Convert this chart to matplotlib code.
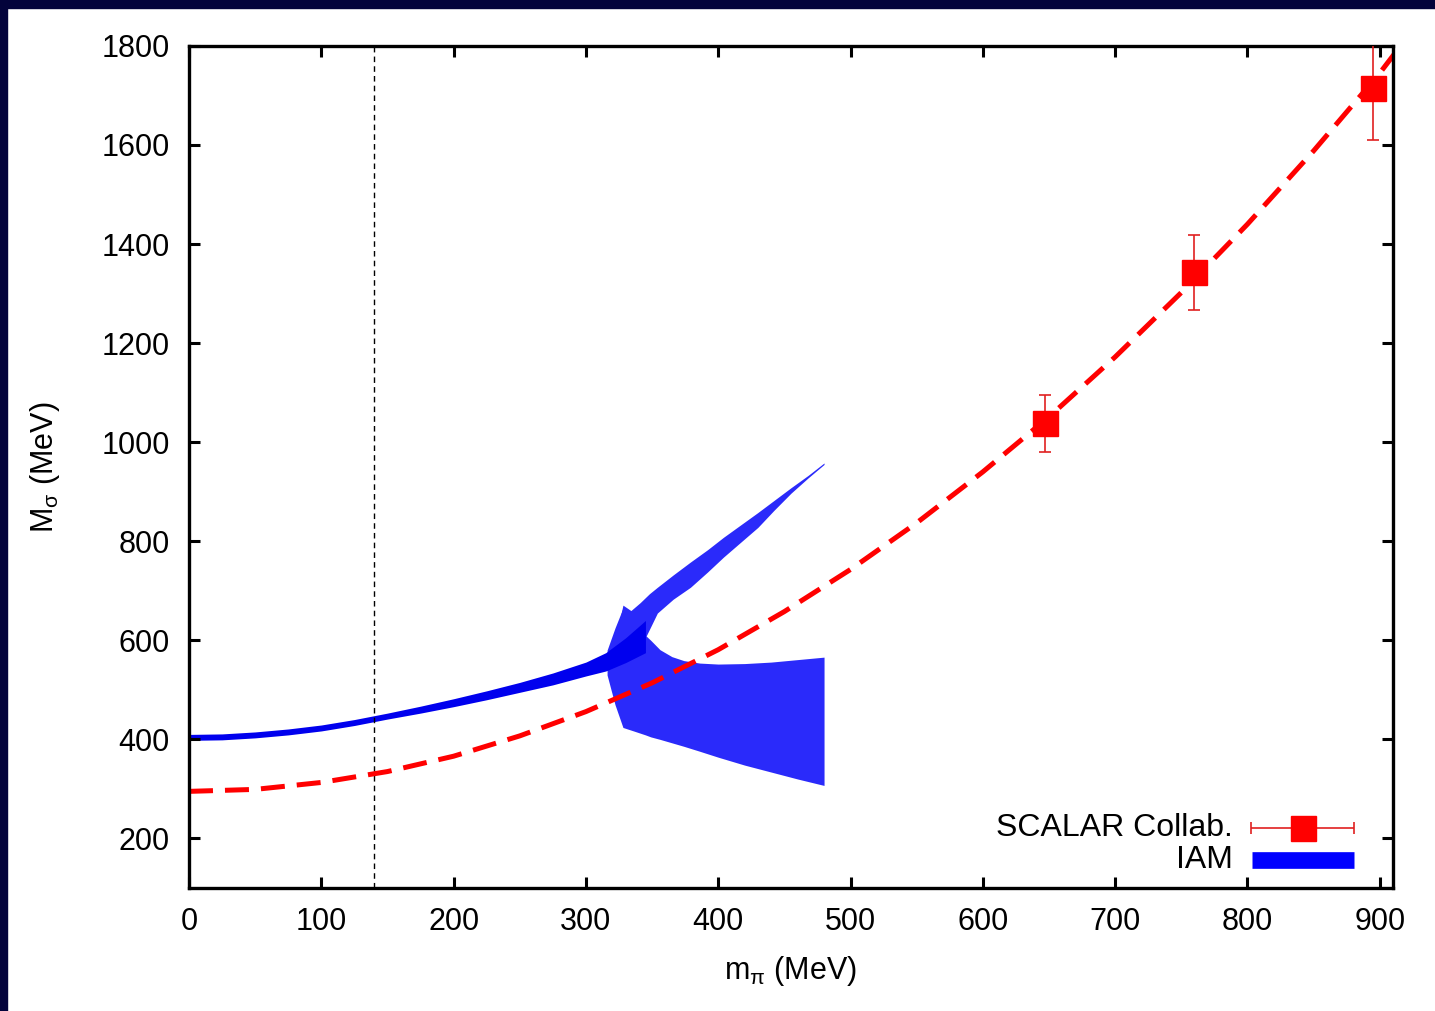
import matplotlib
matplotlib.use('Agg')
import matplotlib.pyplot as plt
from matplotlib.patches import Rectangle

plt.rcParams['font.family'] = ['Liberation Sans', 'DejaVu Sans']
plt.rcParams['mathtext.fontset'] = 'custom'
plt.rcParams['mathtext.rm'] = 'Liberation Sans'
plt.rcParams['mathtext.it'] = 'Liberation Sans'

# SCALAR collaboration lattice points
scalar_mpi = [647, 760, 895]
scalar_msig = [1038, 1343, 1715]
scalar_err = [58, 76, 105]

# fit through lattice points
fit_mpi = [0, 50, 100, 150, 200, 250, 300, 350, 400, 450, 500, 550, 600,
           650, 700, 750, 800, 850, 900, 920]
fit_msig = [295, 299, 313, 335, 366, 407, 456, 514, 581, 658, 743, 837, 940,
            1051, 1172, 1302, 1440, 1588, 1745, 1815]

# IAM band, main (low mpi) part
iam_mpi = [0, 25, 50, 75, 100, 125, 150, 175, 200, 225, 250, 275, 300, 315,
           330, 345]
iam_lo = [398, 399, 403, 409, 417, 428, 441, 453, 466, 480, 495, 510, 528,
          538, 555, 575]
iam_hi = [410, 411, 415, 421, 429, 440, 453, 467, 482, 498, 515, 534, 556,
          575, 605, 640]

# IAM upper branch
up_mpi = [321, 328, 334, 341, 348, 354, 366, 379, 392, 404, 417, 430, 442,
          455, 468, 480]
up_lo = [555, 565, 572, 584, 622, 655, 683, 707, 738, 768, 798, 828, 862,
         897, 928, 955]
up_hi = [586, 671, 660, 676, 694, 707, 732, 758, 783, 808, 833, 858, 882,
         908, 933, 958]

# IAM lower branch (fan)
fan_mpi = [316, 322, 328, 336, 345, 349, 356, 365, 374, 386, 400, 420, 440,
           460, 480]
fan_lo = [530, 470, 424, 417, 409, 405, 400, 393, 386, 376, 364, 348, 334,
          320, 307]
fan_hi = [580, 625, 665, 640, 610, 600, 581, 567, 559, 554, 552, 553, 556,
          561, 566]

m_pion = 139.57

fig = plt.figure(figsize=(14.35, 10.11), dpi=100)
ax = fig.add_axes([0.1317, 0.1217, 0.839, 0.8329])

ax.fill_between(fan_mpi, fan_lo, fan_hi, color='#2a2afa', lw=0)
ax.fill_between(up_mpi, up_lo, up_hi, color='#2a2afa', lw=0)
ax.fill_between(iam_mpi, iam_lo, iam_hi, color='#0000ee', lw=0)

ax.axvline(m_pion, color='black', lw=1.0, linestyle=(0, (4, 3)))

ax.plot(fit_mpi, fit_msig, color='#ff0000', lw=3.6, dashes=(4.8, 2.4),
        dash_capstyle='butt')
ax.errorbar(scalar_mpi, scalar_msig, yerr=scalar_err, fmt='s', color='#ff0000',
            ecolor='#e02020', elinewidth=1.2, capsize=4, capthick=1.2,
            markersize=18, zorder=5)

ax.set_xlim(0, 910)
ax.set_ylim(100, 1800)
ax.set_xticks(range(0, 901, 100))
ax.set_yticks(range(200, 1801, 200))
ax.tick_params(direction='in', length=8, width=2.2, top=True, right=True,
               labelsize=22, pad=14)
for s in ax.spines.values():
    s.set_linewidth(2.4)

ax.set_xlabel(r'm$_{\pi}$ (MeV)', fontsize=22, labelpad=12)
ax.set_ylabel(r'M$_{\sigma}$ (MeV)', fontsize=22, labelpad=28)

# gnuplot style key, text right aligned before the sample
ax.text(0.867, 0.0713, 'SCALAR Collab.', transform=ax.transAxes, ha='right',
        va='center', fontsize=23)
ax.text(0.867, 0.0333, 'IAM', transform=ax.transAxes, ha='right',
        va='center', fontsize=23)
ax.errorbar([0.925], [0.0713], xerr=[0.0425], fmt='s', color='#ff0000',
            ecolor='#e02020', elinewidth=1.2, capsize=4, capthick=1.2,
            markersize=18, transform=ax.transAxes, clip_on=False)
ax.plot([0.883, 0.968], [0.0333, 0.0333], color='#0000ff', lw=12,
        solid_capstyle='butt', transform=ax.transAxes)

# dark frame on the left and top edges
fig.patches.append(Rectangle((0, 1 - 8 / 1011), 1, 8 / 1011,
                             transform=fig.transFigure, color='#03033b'))
fig.patches.append(Rectangle((0, 0), 7 / 1435, 1,
                             transform=fig.transFigure, color='#03033b'))

fig.savefig('out.png', dpi=100)
